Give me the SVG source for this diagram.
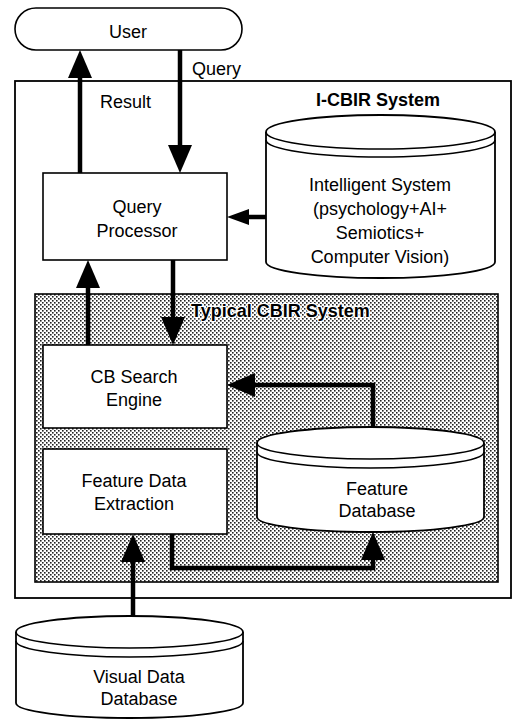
<svg xmlns="http://www.w3.org/2000/svg" width="513" height="720" viewBox="0 0 513 720">
<defs>
<pattern id="dots" width="4" height="4" patternUnits="userSpaceOnUse">
<rect width="4" height="4" fill="#ffffff"/>
<rect x="0" y="0" width="1.6" height="1.6" fill="#222"/>
<rect x="2" y="2" width="1.6" height="1.6" fill="#222"/>
</pattern>
<marker id="ah" markerUnits="userSpaceOnUse" markerWidth="30" markerHeight="26" refX="0" refY="12" orient="auto" overflow="visible">
<path d="M0,0 L28,12 L0,24 z" fill="#000"/>
</marker>
<marker id="ahs" markerUnits="userSpaceOnUse" markerWidth="24" markerHeight="18" refX="0" refY="8" orient="auto" overflow="visible">
<path d="M0,0 L22,8 L0,16 z" fill="#000"/>
</marker>
</defs>
<style>
text{font-family:"Liberation Sans",Arial,sans-serif;font-size:18px;fill:#000;text-anchor:middle}
.b{font-weight:bold}
.box{fill:#fff;stroke:#000;stroke-width:1.6}
.frame{fill:none;stroke:#000;stroke-width:1.8}
.cyl{fill:#fff;stroke:#000;stroke-width:1.8}
.ln{fill:none;stroke:#000;stroke-width:1.6}
.conn{fill:none;stroke:#000;stroke-width:4.5;marker-end:url(#ah)}
.halo{stroke:#fff;stroke-width:2.5;paint-order:stroke;stroke-linejoin:round}
</style>

<g id="icbir-system">
<rect class="frame" x="15" y="81" width="496" height="517"/>
<text class="b" x="378" y="106">I-CBIR System</text>
</g>

<g id="typical-cbir-system">
<rect x="35" y="294" width="463" height="288" fill="url(#dots)" stroke="#000" stroke-width="1.6"/>
<text class="b halo" x="191" y="317" style="text-anchor:start">Typical CBIR System</text>
</g>

<g id="user">
<rect class="box" x="15" y="8" width="227" height="42" rx="21" ry="21"/>
<text x="128" y="38">User</text>
</g>

<g id="query-processor">
<rect class="box" x="43" y="173" width="184" height="87"/>
<text x="137" y="213">Query</text>
<text x="137" y="237">Processor</text>
</g>

<g id="intelligent-system">
<path class="cyl" d="M266,132 A114.5,17 0 0 1 495,132 L495,262 A114.5,16 0 0 1 266,262 Z"/>
<path class="ln" d="M266,132 A114.5,17 0 0 0 495,132"/>
<path class="ln" d="M266,140 A114.5,17 0 0 0 495,140"/>
<text x="380" y="191">Intelligent System</text>
<text x="380" y="215">(psychology+AI+</text>
<text x="380" y="239">Semiotics+</text>
<text x="380" y="263">Computer Vision)</text>
</g>

<g id="cb-search-engine">
<rect class="box" x="43" y="345" width="184" height="83"/>
<text x="134" y="383">CB Search</text>
<text x="134" y="406">Engine</text>
</g>

<g id="feature-data-extraction">
<rect class="box" x="43" y="449" width="184" height="85"/>
<text x="134" y="487">Feature Data</text>
<text x="134" y="510">Extraction</text>
</g>

<g id="feature-database">
<path class="cyl" d="M257,443 A113.5,16 0 0 1 484,443 L484,517 A113.5,15 0 0 1 257,517 Z"/>
<path class="ln" d="M257,443 A113.5,16 0 0 0 484,443"/>
<path class="ln" d="M257,452 A113.5,16 0 0 0 484,452"/>
<text x="377" y="495">Feature</text>
<text x="377" y="517">Database</text>
</g>

<g id="visual-data-database">
<path class="cyl" d="M16,632 A113.5,16 0 0 1 243,632 L243,703 A113.5,15 0 0 1 16,703 Z"/>
<path class="ln" d="M16,632 A113.5,16 0 0 0 243,632"/>
<path class="ln" d="M16,641 A113.5,16 0 0 0 243,641"/>
<text x="139" y="683">Visual Data</text>
<text x="139" y="705">Database</text>
</g>

<g id="connectors">
<path class="conn" d="M80,173 L80,78"/>
<path class="conn" d="M180,50 L180,145"/>
<path class="conn" d="M88,345 L88,288"/>
<path class="conn" d="M173,260 L173,317"/>
<path class="conn" d="M266,217 L249,217" style="marker-end:url(#ahs)"/>
<path class="conn" d="M373,427 L373,385 L255,385" style="stroke-linejoin:miter"/>
<path class="conn" d="M172,534 L172,568 L373,568 L373,560" style="stroke-linejoin:miter"/>
<path class="conn" d="M133,616 L133,562"/>
<text x="192" y="75" style="text-anchor:start">Query</text>
<text x="100" y="108" style="text-anchor:start">Result</text>
</g>
</svg>
